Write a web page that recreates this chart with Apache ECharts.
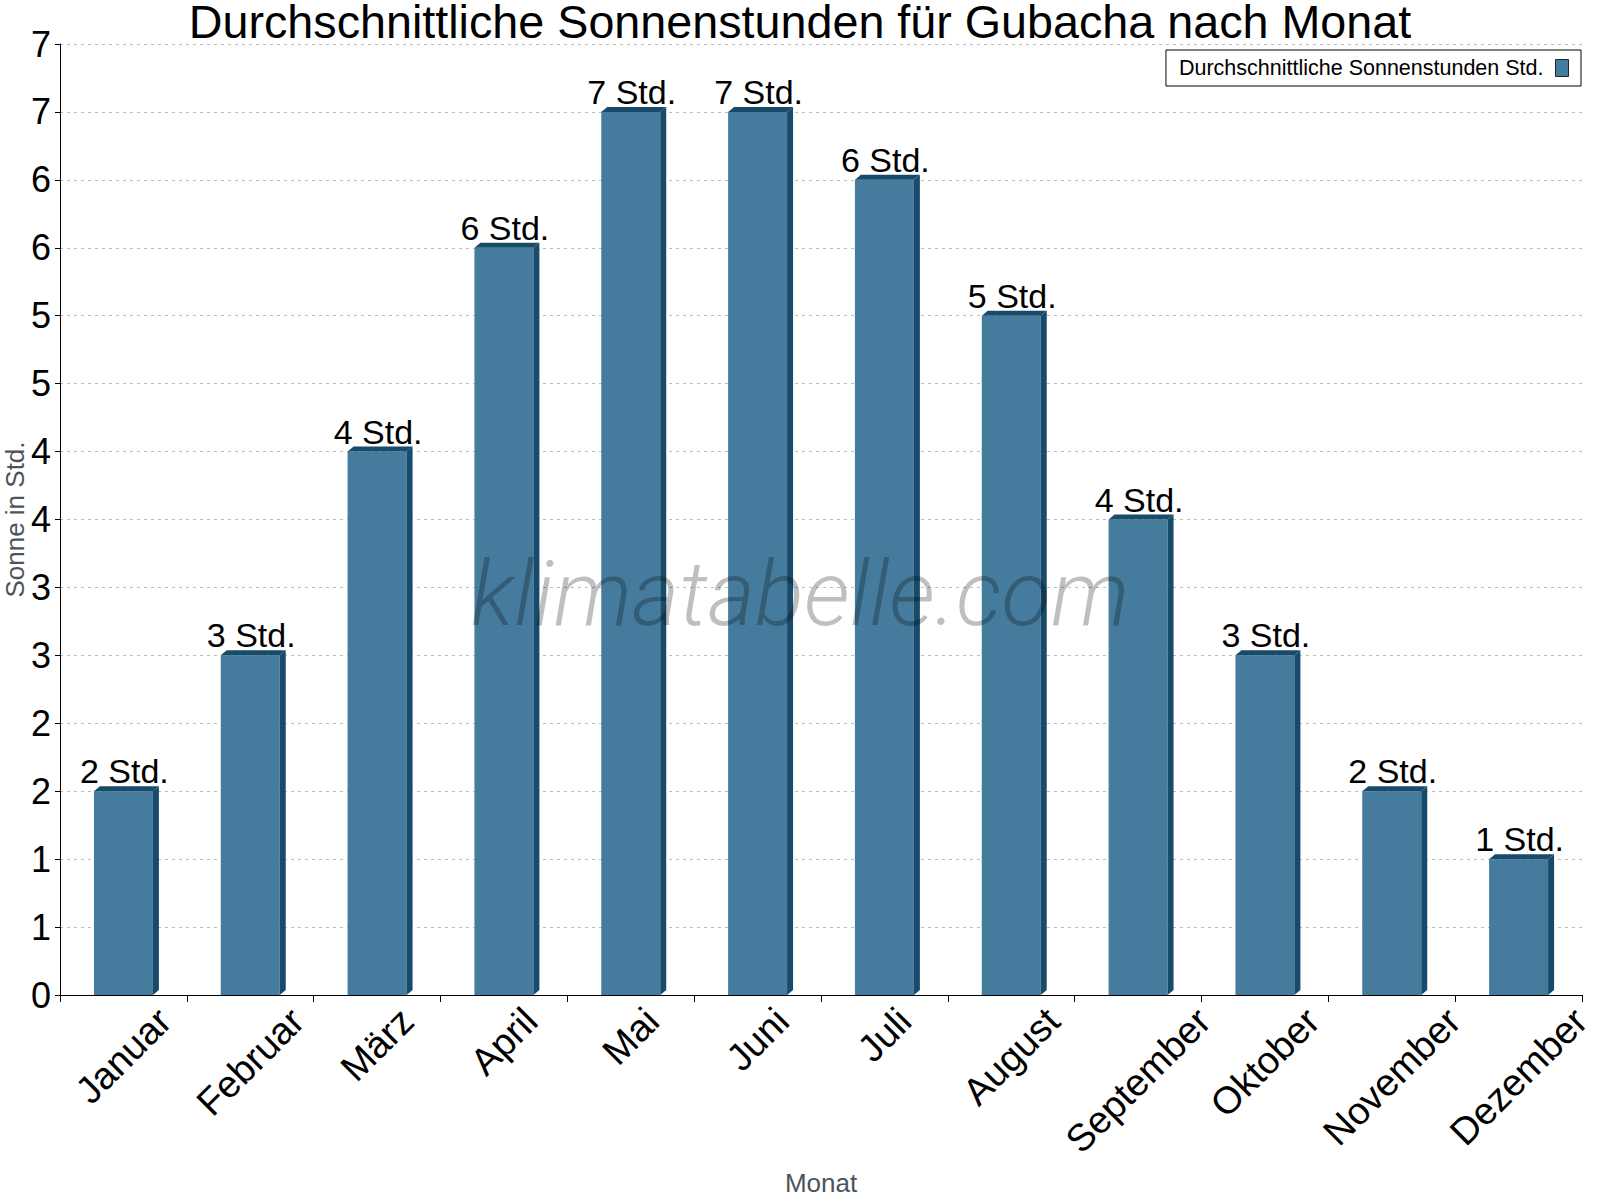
<!DOCTYPE html>
<html>
<head>
<meta charset="utf-8">
<title>Sonnenstunden Gubacha</title>
<script src="https://cdn.jsdelivr.net/npm/echarts@6/dist/echarts.min.js"></script>
<style>
  html, body { margin: 0; padding: 0; background: #fff; }
  #main { width: 1600px; height: 1200px; }
</style>
</head>
<body>
<div id="main"></div>
<script>
// Daten
var months = ['Januar', 'Februar', 'März', 'April', 'Mai', 'Juni', 'Juli', 'August', 'September', 'Oktober', 'November', 'Dezember'];
var sunHours = [1.5, 2.5, 4, 5.5, 6.5, 6.5, 6, 5, 3.5, 2.5, 1.5, 1];
var yTickLabels = ['0', '1', '1', '2', '2', '3', '3', '4', '4', '5', '5', '6', '6', '7', '7'];
var yStep = 0.5;
var seriesName = 'Durchschnittliche Sonnenstunden Std.';

var frontColor = '#457b9d';
var sideColor = '#184b6b';
var font = 'Liberation Sans, Arial, sans-serif';
var xLabelSize = 38;
var xLabelLine = 38;

var myChart = echarts.init(document.getElementById('main'), null, { renderer: 'svg' });

// Monatsnamen: um 45° gedreht, Textmitte unter der Kategorie, Ende nahe der Achse.
// Der gedrehte Text wird per Padding (oben/rechts) senkrecht nach unten geschoben,
// um so weiter, je länger der Name ist.
var measure = document.createElement('canvas').getContext('2d');
measure.font = xLabelSize + 'px ' + font;
var xCategories = months.map(function (m) {
    var q = measure.measureText(m).width * 0.25 - 6.5;
    return {
        value: m,
        textStyle: {
            align: 'center',
            verticalAlign: 'top',
            lineHeight: xLabelLine,
            padding: [q, 2 * q + xLabelLine, 0, 0]
        }
    };
});

// Balken mit kleiner 3D-Kante (rechts und oben)
function renderBar(params, api) {
    var cat = api.value(0);
    var val = api.value(1);
    var top = api.coord([cat, val]);
    var base = api.coord([cat, 0]);
    var w = api.size([1, 0])[0] * 0.465;
    var x0 = top[0] - w / 2;
    var x1 = top[0] + w / 2;
    var dx = 6, dy = 5;
    return {
        type: 'group',
        children: [
            { type: 'rect', shape: { x: x0, y: top[1], width: w, height: base[1] - top[1] }, style: { fill: frontColor } },
            { type: 'polygon', shape: { points: [[x1, top[1]], [x1 + dx, top[1] - dy], [x1 + dx, base[1] - dy], [x1, base[1]]] }, style: { fill: sideColor } },
            { type: 'polygon', shape: { points: [[x0, top[1]], [x0 + dx, top[1] - dy], [x1 + dx, top[1] - dy], [x1, top[1]]] }, style: { fill: sideColor } },
            {
                type: 'text',
                style: {
                    text: Math.round(val) + ' Std.',
                    x: top[0] + 1, y: top[1] - dy + 2,
                    align: 'center', verticalAlign: 'bottom',
                    fontSize: 34, fontFamily: font, fill: '#000'
                }
            }
        ]
    };
}

var option = {
    backgroundColor: '#fff',
    title: {
        text: 'Durchschnittliche Sonnenstunden für Gubacha nach Monat',
        left: 'center',
        top: 4,
        padding: 0,
        textStyle: { fontSize: 46.7, lineHeight: 35, fontWeight: 'normal', fontFamily: font, color: '#000' }
    },
    legend: {
        data: [seriesName],
        right: 19,
        top: 50,
        align: 'right',
        selectedMode: false,
        padding: [7, 12, 7, 13],
        borderColor: '#000',
        borderWidth: 1,
        itemWidth: 13,
        itemHeight: 17,
        icon: 'rect',
        itemStyle: { color: frontColor, borderColor: '#1a2530', borderWidth: 1 },
        textStyle: { fontSize: 21.5, fontFamily: font, color: '#000', padding: [0, 7, 0, 0] }
    },
    graphic: [{
        type: 'text',
        left: 'center',
        top: 548,
        z: 100,
        silent: true,
        style: {
            text: 'klimatabelle.com',
            fontSize: 91,
            fontStyle: 'italic',
            fontWeight: 300,
            fontFamily: 'Roboto, sans-serif',
            fill: 'rgba(0,0,0,0.25)'
        }
    }],
    grid: {
        left: 60,
        right: 18,
        top: 44,
        bottom: 205,
        outerBoundsMode: 'none'
    },
    xAxis: {
        type: 'category',
        data: xCategories,
        name: 'Monat',
        nameLocation: 'middle',
        nameGap: 175,
        nameMoveOverlap: false,
        nameTextStyle: { fontSize: 26, fontFamily: font, color: '#4d535a' },
        axisLine: { lineStyle: { color: '#000', width: 1 } },
        axisTick: { show: true, length: 7, lineStyle: { color: '#000' } },
        axisLabel: {
            interval: 0,
            rotate: 45,
            margin: 2,
            fontSize: xLabelSize,
            fontFamily: font,
            color: '#000'
        },
        splitLine: { show: false }
    },
    yAxis: {
        type: 'value',
        min: 0,
        max: 7,
        interval: yStep,
        name: 'Sonne in Std.',
        nameLocation: 'middle',
        nameGap: 32,
        nameMoveOverlap: false,
        nameTextStyle: { fontSize: 26, fontFamily: font, color: '#4d535a' },
        axisLine: { show: true, lineStyle: { color: '#000', width: 1 } },
        axisTick: { show: true, length: 5, lineStyle: { color: '#000' } },
        axisLabel: {
            margin: 9,
            fontSize: 36,
            fontFamily: font,
            color: '#000',
            formatter: function (value) {
                return yTickLabels[Math.round(value / yStep)];
            }
        },
        splitLine: { show: true, lineStyle: { color: '#bdbdbd', type: [3, 4], width: 1 } }
    },
    series: [
        {
            name: seriesName,
            type: 'custom',
            renderItem: renderBar,
            itemStyle: { color: frontColor },
            data: months.map(function (m, i) { return [i, sunHours[i]]; }),
            z: 5
        }
    ]
};

myChart.setOption(option);
</script>
</body>
</html>
